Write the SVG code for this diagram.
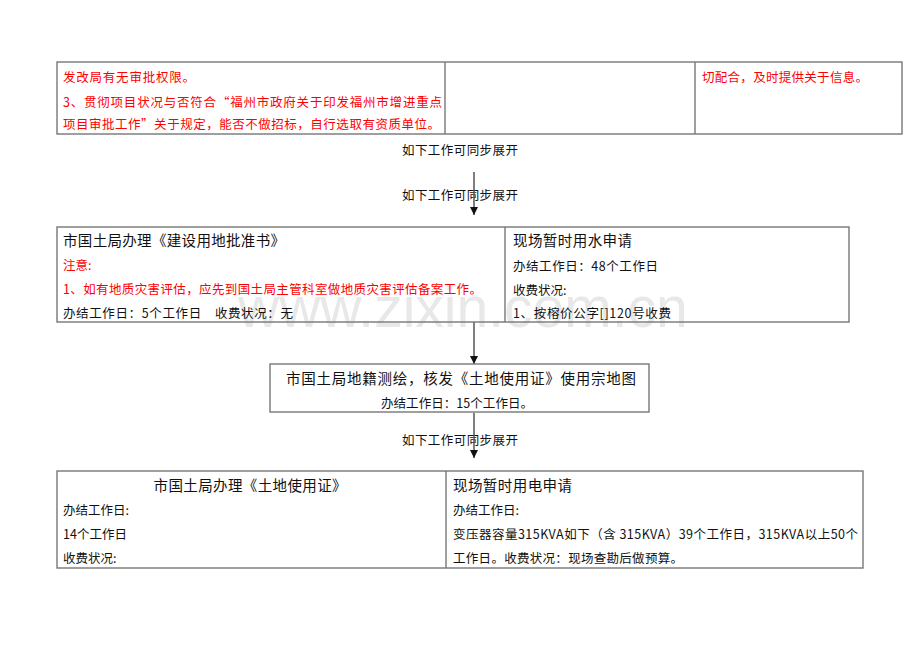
<svg xmlns="http://www.w3.org/2000/svg" width="920" height="651" viewBox="0 0 920 651">
<defs>
<style>
.box{fill:none;stroke:#777;stroke-width:1.4}
.t{font-family:"Noto Sans CJK SC","Liberation Serif",serif;fill:#111}
.h{font-size:14.5px}
.b{font-size:12.5px}
.r{fill:#ff0000}
.c{text-anchor:middle}
.conn{stroke:#555;stroke-width:1.5;fill:none}
.wm{font-family:"Liberation Sans",Arial,sans-serif;font-size:57px;fill:#e8e8e8}
</style>
<marker id="ah" markerWidth="8" markerHeight="8" refX="8" refY="4" orient="auto" markerUnits="userSpaceOnUse" viewBox="0 0 8 8">
<path d="M0,0 L8,4 L0,8 Z" fill="#111"/>
</marker>
</defs>
<rect width="920" height="651" fill="#fff"/>
<text class="wm" x="238" y="327">www.zixin.com.cn</text>

<g id="top-table">
<rect class="box" x="57" y="62" width="845" height="72"/>
<line class="box" x1="445" y1="62" x2="445" y2="134"/>
<line class="box" x1="695" y1="62" x2="695" y2="134"/>
<text class="t b r" x="63" y="82" textLength="132">发改局有无审批权限。</text>
<text class="t b r" x="63" y="107" textLength="379">3、贯彻项目状况与否符合“福州市政府关于印发福州市增进重点</text>
<text class="t b r" x="63" y="129" textLength="377">项目审批工作”关于规定，能否不做招标，自行选取有资质单位。</text>
<text class="t b r" x="702" y="82" textLength="166">切配合，及时提供关于信息。</text>
</g>

<g id="labels">
<text class="t b" x="402" y="155" textLength="116">如下工作可同步展开</text>
<text class="t b" x="402" y="200" textLength="116">如下工作可同步展开</text>
<text class="t b" x="402" y="445" textLength="116">如下工作可同步展开</text>
</g>

<g id="connectors">
<line class="conn" x1="474" y1="172" x2="474" y2="215" marker-end="url(#ah)"/>
<line class="conn" x1="474" y1="322" x2="474" y2="364" marker-end="url(#ah)"/>
<line class="conn" x1="474" y1="413" x2="474" y2="458" marker-end="url(#ah)"/>
</g>

<g id="node-land-approval">
<rect class="box" x="57" y="227" width="792" height="95"/>
<line class="box" x1="505" y1="227" x2="505" y2="322"/>
<text class="t h" x="63" y="246" textLength="222">市国土局办理《建设用地批准书》</text>
<text class="t b r" x="63" y="270">注意:</text>
<text class="t b r" x="63" y="294" textLength="419">1、如有地质灾害评估，应先到国土局主管科室做地质灾害评估备案工作。</text>
<text class="t b" x="63" y="318" textLength="230">办结工作日：5个工作日　收费状况：无</text>
</g>

<g id="node-water">
<text class="t h" x="513" y="246" textLength="119">现场暂时用水申请</text>
<text class="t b" x="513" y="271" textLength="145">办结工作日：48个工作日</text>
<text class="t b" x="513" y="295">收费状况:</text>
<text class="t b" x="513" y="318" textLength="158">1、按榕价公字[]120号收费</text>
</g>

<g id="node-survey">
<rect class="box" x="270" y="364" width="379" height="48"/>
<text class="t h c" x="461" y="384" textLength="350">市国土局地籍测绘，核发《土地使用证》使用宗地图</text>
<text class="t b c" x="457" y="408" textLength="152">办结工作日：15个工作日。</text>
</g>

<g id="node-land-cert">
<rect class="box" x="57" y="471" width="806" height="97"/>
<line class="box" x1="446" y1="471" x2="446" y2="568"/>
<text class="t h c" x="250" y="491" textLength="193">市国土局办理《土地使用证》</text>
<text class="t b" x="63" y="515">办结工作日:</text>
<text class="t b" x="63" y="539">14个工作日</text>
<text class="t b" x="63" y="563">收费状况:</text>
</g>

<g id="node-power">
<text class="t h" x="453" y="491" textLength="119">现场暂时用电申请</text>
<text class="t b" x="453" y="515">办结工作日:</text>
<text class="t b" x="453" y="539" textLength="405">变压器容量315KVA如下（含 315KVA）39个工作日，315KVA以上50个</text>
<text class="t b" x="453" y="563" textLength="230">工作日。收费状况：现场查勘后做预算。</text>
</g>
</svg>
